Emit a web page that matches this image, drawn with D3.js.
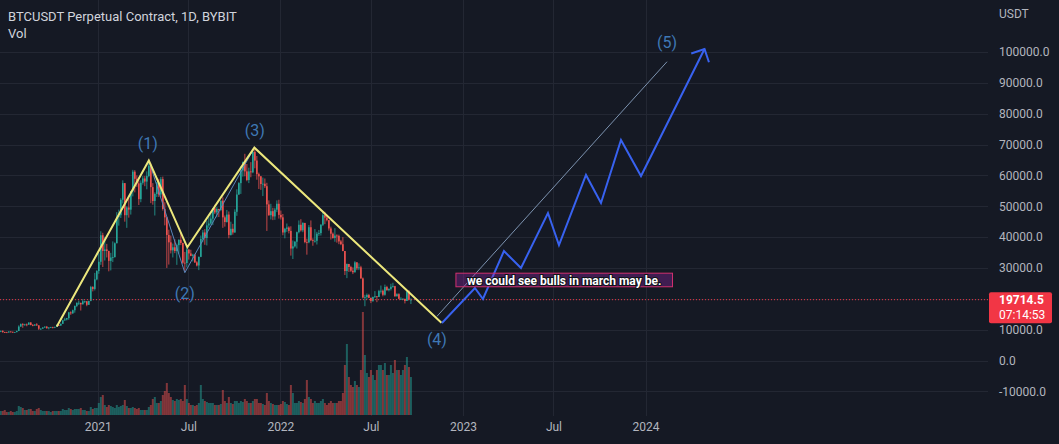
<!DOCTYPE html>
<html><head><meta charset="utf-8">
<script src="https://cdn.jsdelivr.net/npm/d3@7"></script>
<style>body{margin:0;background:#151924;overflow:hidden}svg{display:block}</style>
</head><body><svg id="c" width="1059" height="444"></svg>
<script>
// ---------- DATA (prices in thousands of USDT) ----------
const title = "BTCUSDT Perpetual Contract, 1D, BYBIT";
const candleStart = "2020-06-19";   // first candle, each candle = 4 days
const candleDays = 4;
const firstOpen = 9.35;
const closes = [
9.6,9.2,9.15,9.1,9.4,9.3,9.15,9.2,9.55,11.0,
11.8,11.7,11.7,11.6,12.3,11.5,11.35,11.7,11.4,10.3,
10.35,10.7,10.95,10.45,10.7,10.8,10.65,10.9,11.5,11.35,
11.9,13.0,13.3,13.75,15.6,15.3,16.3,17.7,18.7,18.7,
18.2,19.2,19.2,18.05,19.3,23.8,23.2,26.3,29.0,32.0,
40.6,35.5,36.0,35.5,32.3,33.4,33.5,38.0,46.5,47.1,
52.1,57.5,47.1,49.6,48.9,54.9,61.2,58.9,57.4,52.3,
57.6,59.0,58.0,59.8,63.1,56.2,51.7,54.0,57.7,53.8,
58.8,49.1,46.4,40.7,38.3,35.7,36.7,35.5,37.4,39.1,
38.1,31.7,31.6,36.0,34.7,33.9,34.3,31.8,30.8,33.6,
39.4,41.5,39.7,43.8,44.4,46.0,49.3,48.0,49.1,48.8,
51.8,46.4,44.9,47.3,40.7,42.7,41.5,48.2,53.8,57.5,
61.6,64.3,61.3,58.5,61.3,61.0,67.6,64.8,60.4,59.7,
57.2,57.3,56.5,50.6,47.1,48.4,46.7,48.9,50.8,47.2,
46.4,41.5,42.7,43.1,42.0,36.3,37.0,38.5,41.6,44.0,
42.2,44.6,38.4,38.3,43.2,39.0,38.8,38.8,41.1,41.3,
44.0,47.1,46.3,45.5,42.8,41.1,39.7,40.5,40.4,38.6,
37.7,35.5,29.0,31.3,30.3,29.1,28.6,31.8,29.9,30.2,
26.6,20.4,20.6,21.2,20.3,19.3,20.6,20.8,20.6,22.5,
22.6,21.3,23.8,22.8,23.2,23.9,24.1,20.8,21.5,20.0,
20.0,20.0,19.3,22.4,19.7,19.71];
const highs = [
9.7,9.8,9.3,9.3,9.45,9.45,9.35,9.25,9.7,11.4,
12.0,12.1,11.9,12.0,12.4,12.45,11.8,11.7,12.1,11.4,
10.4,10.8,11.1,11.2,10.8,10.9,10.95,10.95,11.7,11.55,
12.0,13.2,13.85,13.8,15.75,15.95,16.5,17.8,18.8,19.4,
18.3,19.9,19.4,19.3,19.4,24.2,24.1,28.4,29.3,34.8,
41.9,41.4,40.1,37.8,35.6,34.9,38.6,38.3,48.1,48.9,
52.6,58.4,57.5,50.0,52.6,54.9,61.8,61.7,60.0,58.4,
58.4,59.8,59.8,61.3,64.9,63.8,57.5,54.5,57.9,58.9,
59.5,59.6,51.3,46.6,42.4,40.5,37.9,39.3,37.9,39.3,
41.3,38.2,35.2,36.6,36.0,35.9,34.6,34.6,32.2,33.7,
40.5,42.3,42.6,45.3,46.7,48.1,49.4,50.5,49.8,49.2,
51.9,52.9,47.0,48.8,48.3,45.0,44.3,49.0,55.5,57.8,
62.9,64.5,67.0,63.7,62.5,64.3,67.8,69.0,66.3,60.9,
59.8,59.3,59.0,57.6,51.9,50.8,49.5,49.5,51.9,52.1,
48.6,47.5,43.0,44.4,43.5,43.5,38.9,38.7,41.8,45.4,
45.8,44.8,44.1,39.5,43.9,45.4,39.6,42.6,41.7,42.3,
44.2,48.2,48.2,47.2,45.5,43.4,41.5,42.9,40.9,40.8,
39.1,40.0,34.8,31.4,31.3,30.7,30.2,32.2,31.9,31.5,
30.7,26.9,21.3,21.7,21.6,20.4,20.7,22.5,20.9,22.9,
24.3,23.0,24.6,24.2,23.4,24.9,25.2,24.2,21.8,21.8,
20.5,20.2,20.0,22.5,22.8,20.2];
const lows = [
9.2,9.0,8.9,9.0,9.0,9.1,9.0,9.1,9.15,9.6,
10.9,10.6,11.3,11.1,11.6,11.4,11.1,11.2,11.2,9.9,
9.9,10.2,10.6,10.35,10.1,10.6,10.4,10.5,10.85,11.2,
11.2,11.9,12.9,13.0,13.2,14.8,15.1,15.5,17.3,18.0,
16.2,18.2,18.6,17.6,18.3,19.2,22.4,22.7,26.0,28.1,
31.0,30.3,32.4,33.4,28.9,29.2,31.9,33.4,38.0,43.7,
46.2,50.9,45.0,43.0,46.3,47.3,53.2,54.5,56.3,50.4,
51.3,57.0,56.5,55.5,59.4,51.0,50.5,47.0,53.0,53.0,
53.0,48.6,43.8,30.0,31.1,34.7,33.4,34.8,31.0,34.6,
37.4,31.3,28.8,30.2,32.7,33.8,32.1,31.6,30.5,29.3,
33.5,38.3,37.5,37.3,43.0,44.0,43.9,47.5,46.4,46.5,
48.4,43.0,43.4,44.7,39.6,40.5,40.8,41.4,46.9,53.7,
54.0,59.6,59.7,58.1,57.5,59.4,60.7,62.3,58.6,55.6,
55.3,53.3,55.9,42.0,46.9,45.7,45.5,45.6,48.1,46.0,
45.7,40.6,39.6,41.7,41.2,34.0,32.9,36.6,36.3,41.2,
41.8,41.6,38.0,34.3,38.0,38.7,37.2,38.2,37.6,40.4,
40.5,43.6,44.2,45.1,42.1,39.2,39.5,38.5,38.2,37.7,
37.4,35.4,27.7,26.7,28.7,28.7,28.0,28.5,29.3,29.3,
26.5,20.1,17.6,19.8,20.2,18.6,19.0,20.3,18.9,20.6,
21.7,20.8,21.0,22.6,22.4,22.7,23.6,20.7,20.9,19.9,
19.6,19.6,18.5,19.3,19.5,18.3];
const volumes = [
4,4,5,3,3,4,3,3,4,9,
8,7,5,5,6,6,4,4,6,7,
5,4,4,4,4,3,4,4,4,4,
4,6,5,5,7,6,5,6,6,6,
7,5,5,4,4,8,6,7,7,12,
18,20,10,8,10,9,8,7,10,8,
9,10,15,9,7,7,8,7,6,7,
5,5,5,5,8,10,16,18,12,12,
14,20,24,32,22,18,15,14,16,15,
16,14,30,16,12,10,10,9,10,12,
30,16,14,13,12,12,12,10,10,10,
11,25,14,12,18,12,11,14,14,12,
14,13,16,14,12,12,14,16,16,12,
12,11,10,22,14,12,11,10,10,10,
11,14,13,11,10,30,22,12,12,14,
13,12,16,35,18,16,12,14,12,12,
14,16,12,10,12,14,12,12,12,14,
14,22,50,71,38,30,28,34,30,28,
45,103,60,42,38,45,40,35,45,50,
50,45,52,40,40,50,42,55,45,45,
40,45,50,58,48,38];
const volumeMax = 103;

const priceTicks = [-10000,0,10000,30000,40000,50000,60000,70000,80000,90000,100000];
const gridPrices = [-10000,0,10000,20000,30000,40000,50000,60000,70000,80000,90000,100000];
const timeTickDates = ["2021-01-01","2021-07-01","2022-01-01","2022-07-01","2023-01-01","2023-07-01","2024-01-01"];
const timeTickLabels = ["2021","Jul","2022","Jul","2023","Jul","2024"];
const lastPrice = 19714.5;
const countdown = "07:14:53";

// Elliott-wave drawing (dates, prices in USDT)
const yellowDates = ["2020-10-11","2021-04-13","2021-06-29","2021-11-10","2022-11-19"];
const yellowPrices = [11000,64800,36700,69000,12250];
const waveDates = ["2020-10-11","2021-04-13","2021-06-24","2021-11-10","2022-11-19"];
const wavePrices = [11000,64800,28460,69000,12250];
const projDates = ["2022-11-10","2024-02-13"];
const projPrices = [14300,96850];
const zigDates = ["2022-11-20","2023-01-25","2023-02-10","2023-03-24","2023-04-27","2023-06-20","2023-07-12","2023-09-04","2023-10-04","2023-11-13","2023-12-23","2024-04-28"];
const zigPrices = [12150,23500,19935,35490,29980,47800,37440,60130,51050,71470,59800,100970];
const waveLabelText = ["(1)","(2)","(3)","(4)","(5)"];
const waveLabelDates = ["2021-04-11","2021-06-24","2021-11-11","2022-11-10","2024-02-13"];
const waveLabelPrices = [70180,21560,74470,6650,103240];
const noteText = "we could see bulls in march may be.";
const noteDates = ["2022-12-18","2024-02-24"];
const notePrices = [28300,23900];

// ---------- CHART ----------
const W = 1059, H = 444, plotRight = 988, volBase = 415;
const parse = d3.utcParse("%Y-%m-%d");
const svg = d3.select("#c");
const font = "Roboto, 'Noto Sans', sans-serif";

svg.append("rect").attr("width",W).attr("height",H).attr("fill","#151924");

const x = d3.scaleUtc().domain([parse("2021-01-01"), parse("2024-01-01")]).range([97.8, 645.5]);
const y = d3.scaleLinear().domain([0, 100000]).range([360.5, 52]);
const yv = d3.scaleLinear().domain([0, volumeMax]).range([volBase, volBase - 103]);

// grid
const grid = svg.append("g").attr("stroke","#232733").attr("stroke-width",1);
grid.selectAll("line.h").data(gridPrices).join("line")
  .attr("x1",0).attr("x2",plotRight)
  .attr("y1",d=>Math.round(y(d))+0.5).attr("y2",d=>Math.round(y(d))+0.5);
grid.selectAll("line.v").data(timeTickDates).join("line")
  .attr("x1",d=>Math.round(x(parse(d)))+0.5).attr("x2",d=>Math.round(x(parse(d)))+0.5)
  .attr("y1",0).attr("y2",volBase+1);

// candles
const start = parse(candleStart);
const candles = closes.map((c,i)=>{
  const o = i===0 ? firstOpen : closes[i-1];
  const h = Math.max(highs[i], o, c), l = Math.min(lows[i], o, c);
  const t = d3.utcHour.offset(d3.utcDay.offset(start, candleDays*i), candleDays*12);
  return {t, o:o*1000, h:h*1000, l:l*1000, c:c*1000, v:volumes[i]};
});
const up = "#26a69a", down = "#ef5350";
const bw = 1.6;
const step = x(d3.utcDay.offset(start, candleDays)) - x(start);

svg.append("g").selectAll("rect").data(candles).join("rect")
  .attr("x",d=>x(d.t)-step/2).attr("width",step)
  .attr("y",d=>yv(d.v)).attr("height",d=>volBase-yv(d.v))
  .attr("fill",d=>d.c>=d.o?up:down).attr("opacity",0.5);

const cg = svg.append("g");
cg.selectAll("line").data(candles).join("line")
  .attr("x1",d=>x(d.t)).attr("x2",d=>x(d.t))
  .attr("y1",d=>y(d.h)).attr("y2",d=>y(d.l))
  .attr("stroke",d=>d.c>=d.o?up:down).attr("stroke-width",0.8);
cg.selectAll("rect").data(candles).join("rect")
  .attr("x",d=>x(d.t)-bw/2).attr("width",bw)
  .attr("y",d=>y(Math.max(d.o,d.c)))
  .attr("height",d=>Math.max(0.8, Math.abs(y(d.o)-y(d.c))))
  .attr("fill",d=>d.c>=d.o?up:down);

// last price dotted line
svg.append("line").attr("x1",0).attr("x2",plotRight)
  .attr("y1",y(lastPrice)).attr("y2",y(lastPrice))
  .attr("stroke","#f23645").attr("stroke-width",1).attr("stroke-dasharray","1,2");

// drawings
const line = d3.line().x(d=>x(d[0])).y(d=>y(d[1]));
const pts = (ds,ps)=>ds.map((d,i)=>[parse(d),ps[i]]);
svg.append("path").attr("d",line(pts(waveDates,wavePrices)))
  .attr("fill","none").attr("stroke","#5a86bb").attr("stroke-width",1);
svg.append("path").attr("d",line(pts(yellowDates,yellowPrices)))
  .attr("fill","none").attr("stroke","#ece77c").attr("stroke-width",2).attr("stroke-linejoin","miter");
svg.append("path").attr("d",line(pts(projDates,projPrices)))
  .attr("fill","none").attr("stroke","#7d93b0").attr("stroke-width",1);

const zp = pts(zigDates,zigPrices);
svg.append("path").attr("d",line(zp))
  .attr("fill","none").attr("stroke","#3862f0").attr("stroke-width",2).attr("stroke-linejoin","miter");
// arrow head
{
  const a = zp[zp.length-2], b = zp[zp.length-1];
  const ax=x(a[0]), ay=y(a[1]), bx=x(b[0]), by=y(b[1]);
  const ang = Math.atan2(ay-by, ax-bx), L = 14;
  const p1 = [bx+L*Math.cos(ang+Math.PI/4), by+L*Math.sin(ang+Math.PI/4)];
  const p2 = [bx+L*Math.cos(ang-Math.PI/4), by+L*Math.sin(ang-Math.PI/4)];
  svg.append("path").attr("d",`M${p1}L${bx},${by}L${p2}`)
    .attr("fill","none").attr("stroke","#3862f0").attr("stroke-width",2);
}

// wave labels
svg.append("g").selectAll("text").data(waveLabelText).join("text")
  .attr("x",(d,i)=>x(parse(waveLabelDates[i]))).attr("y",(d,i)=>y(waveLabelPrices[i]))
  .attr("text-anchor","middle").attr("dominant-baseline","central")
  .attr("fill","#3f78b5").attr("font-family",font).attr("font-size",16).text(d=>d);

// note box
{
  const x0=x(parse(noteDates[0])), x1=x(parse(noteDates[1]));
  const y0=y(notePrices[0]), y1=y(notePrices[1]);
  svg.append("rect").attr("x",x0).attr("y",y0).attr("width",x1-x0).attr("height",y1-y0)
    .attr("fill","rgba(156,39,176,0.32)").attr("stroke","#d0306e").attr("stroke-width",1);
  svg.append("text").attr("x",(x0+x1)/2).attr("y",(y0+y1)/2+5)
    .attr("text-anchor","middle").attr("fill","#ffffff")
    .attr("stroke","#101218").attr("stroke-width",2).attr("paint-order","stroke")
    .attr("font-family",font).attr("font-weight","bold").attr("font-size",12).text(noteText);
}

// axes
const ya = svg.append("g").attr("transform",`translate(996,0)`)
  .call(d3.axisRight(y).tickValues(priceTicks).tickFormat(d=>d.toFixed(1)).tickSize(0).tickPadding(3));
ya.select(".domain").remove();
ya.selectAll("text").attr("fill","#b2b5be").attr("font-family",font).attr("font-size",12);

const xa = svg.append("g").attr("transform",`translate(0,416)`)
  .call(d3.axisBottom(x).tickValues(timeTickDates.map(parse))
    .tickFormat((d,i)=>timeTickLabels[i]).tickSize(0).tickPadding(6));
xa.select(".domain").remove();
xa.selectAll("text").attr("fill","#b2b5be").attr("font-family",font).attr("font-size",12);

svg.append("text").attr("x",999).attr("y",18).attr("fill","#b2b5be")
  .attr("font-family",font).attr("font-size",12).text("USDT");

// price tag
{
  const yp = y(lastPrice);
  svg.append("rect").attr("x",989).attr("y",yp-7.5).attr("width",63).attr("height",31)
    .attr("rx",2).attr("fill","#f23645");
  svg.append("text").attr("x",999).attr("y",yp+4.5).attr("fill","#fff")
    .attr("font-family",font).attr("font-size",12).attr("font-weight","bold").text(lastPrice.toFixed(1));
  svg.append("text").attr("x",999).attr("y",yp+19.5).attr("fill","#fff")
    .attr("font-family",font).attr("font-size",12).text(countdown);
}

// title
svg.append("text").attr("x",8).attr("y",21).attr("fill","#d1d4dc")
  .attr("font-family",font).attr("font-size",13).text(title);
svg.append("text").attr("x",8).attr("y",38).attr("fill","#d1d4dc")
  .attr("font-family",font).attr("font-size",13).text("Vol");
</script></body></html>
